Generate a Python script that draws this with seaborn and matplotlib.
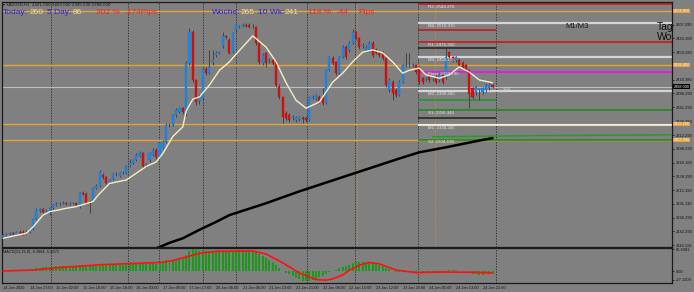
import numpy as np
import matplotlib
matplotlib.use("Agg")
import matplotlib.pyplot as plt
import matplotlib.transforms as mtrans
import seaborn as sns

sns.set_theme(style="white")
plt.rcParams['font.family'] = ['Liberation Sans', 'DejaVu Sans']

# ---------------- data ----------------
open_ = [2132, 2136, 2137, 2139, 2137, 2141, 2142, 2139, 2142, 2146,
         2164, 2179, 2181, 2177, 2175, 2183, 2189, 2191, 2192, 2193,
         2191, 2192, 2193, 2186, 2210, 2209, 2194, 2198, 2219, 2223,
         2242, 2238, 2229, 2235, 2243, 2241, 2245, 2245, 2258, 2263,
         2268, 2276, 2281, 2259, 2268, 2277, 2286, 2275, 2290, 2300,
         2330, 2330, 2348, 2353, 2360, 2350, 2440, 2495, 2410, 2372,
         2378, 2429, 2422, 2442, 2454, 2458, 2470, 2488, 2481, 2459,
         2498, 2504, 2505, 2507, 2507, 2505, 2503, 2475, 2440, 2457,
         2443, 2445, 2442, 2397, 2380, 2351, 2348, 2342, 2339, 2341,
         2343, 2343, 2339, 2378, 2376, 2380, 2380, 2369, 2428, 2449,
         2441, 2422, 2450, 2468, 2463, 2476, 2495, 2484, 2470, 2463,
         2463, 2475, 2463, 2458, 2458, 2449, 2392, 2406, 2392, 2383,
         2406, 2435, 2436, 2435, 2436, 2433, 2413, 2411, 2415, 2411,
         2415, 2410, 2419, 2415, 2459, 2450, 2445, 2445, 2440, 2436,
         2428, 2395, 2387, 2392, 2388, 2392, 2395, 2401]
high_ = [2138, 2140, 2141, 2142, 2143, 2144, 2145, 2145, 2148, 2166,
         2183, 2184, 2183, 2181, 2185, 2191, 2194, 2195, 2196, 2195,
         2195, 2195, 2195, 2212, 2213, 2211, 2197, 2221, 2226, 2250,
         2245, 2240, 2235, 2245, 2247, 2248, 2249, 2260, 2270, 2271,
         2280, 2284, 2283, 2264, 2283, 2289, 2289, 2300, 2304, 2333,
         2334, 2350, 2360, 2363, 2363, 2443, 2502, 2498, 2412, 2385,
         2431, 2432, 2463, 2463, 2461, 2462, 2495, 2490, 2484, 2495,
         2509, 2507, 2510, 2511, 2510, 2509, 2506, 2477, 2457, 2460,
         2448, 2448, 2445, 2402, 2382, 2355, 2351, 2348, 2347, 2347,
         2346, 2346, 2382, 2383, 2386, 2383, 2396, 2430, 2453, 2452,
         2444, 2453, 2471, 2471, 2478, 2500, 2497, 2486, 2475, 2471,
         2478, 2478, 2466, 2461, 2461, 2451, 2413, 2409, 2395, 2409,
         2439, 2457, 2457, 2440, 2439, 2436, 2416, 2416, 2418, 2416,
         2418, 2422, 2422, 2466, 2462, 2453, 2453, 2448, 2443, 2439,
         2430, 2398, 2400, 2396, 2398, 2404, 2404, 2403]
low_ = [2130, 2134, 2135, 2135, 2136, 2138, 2136, 2137, 2140, 2144,
        2162, 2176, 2174, 2174, 2172, 2181, 2187, 2189, 2190, 2189,
        2189, 2190, 2187, 2184, 2206, 2190, 2175, 2196, 2217, 2221,
        2235, 2226, 2226, 2233, 2241, 2239, 2243, 2243, 2256, 2261,
        2266, 2273, 2255, 2256, 2265, 2275, 2271, 2273, 2288, 2298,
        2327, 2328, 2345, 2351, 2350, 2346, 2437, 2407, 2366, 2368,
        2375, 2419, 2420, 2436, 2450, 2455, 2466, 2483, 2455, 2457,
        2495, 2501, 2503, 2504, 2501, 2502, 2472, 2438, 2437, 2432,
        2440, 2436, 2398, 2376, 2334, 2340, 2336, 2339, 2336, 2338,
        2334, 2336, 2337, 2376, 2374, 2370, 2366, 2367, 2425, 2437,
        2419, 2420, 2448, 2447, 2460, 2473, 2481, 2465, 2467, 2460,
        2460, 2451, 2455, 2451, 2446, 2398, 2389, 2375, 2380, 2381,
        2404, 2432, 2433, 2432, 2421, 2403, 2403, 2408, 2407, 2408,
        2403, 2407, 2403, 2412, 2447, 2442, 2442, 2433, 2430, 2425,
        2360, 2377, 2384, 2375, 2385, 2389, 2392, 2395]
close_ = [2136, 2137, 2139, 2137, 2141, 2140, 2138, 2142, 2146, 2164,
          2180, 2181, 2177, 2178, 2183, 2189, 2191, 2192, 2193, 2191,
          2192, 2193, 2189, 2210, 2209, 2192, 2193, 2219, 2223, 2247,
          2238, 2228, 2233, 2243, 2244, 2245, 2246, 2258, 2263, 2268,
          2277, 2281, 2258, 2261, 2281, 2286, 2274, 2298, 2300, 2330,
          2331, 2348, 2357, 2360, 2353, 2440, 2495, 2410, 2371, 2378,
          2429, 2422, 2433, 2445, 2458, 2459, 2488, 2486, 2458, 2493,
          2507, 2505, 2507, 2506, 2503, 2506, 2475, 2442, 2454, 2440,
          2445, 2440, 2401, 2380, 2344, 2343, 2339, 2344, 2344, 2344,
          2341, 2339, 2380, 2380, 2383, 2373, 2369, 2428, 2450, 2440,
          2422, 2450, 2468, 2450, 2475, 2495, 2484, 2468, 2472, 2468,
          2475, 2454, 2458, 2454, 2449, 2401, 2410, 2387, 2383, 2406,
          2436, 2436, 2437, 2436, 2424, 2406, 2406, 2413, 2410, 2413,
          2406, 2419, 2406, 2450, 2450, 2445, 2450, 2436, 2433, 2428,
          2385, 2380, 2397, 2393, 2395, 2401, 2401, 2398]

# fast moving average (cream) sampled at bar indices
ma_fast_idx = [0, 7, 9, 12, 14, 19, 22, 27, 29, 32, 37, 40, 43, 46, 48, 51, 54,
               55, 57, 59, 62, 65, 68, 69, 75, 79, 82, 85, 88, 91, 95, 99, 102,
               105, 108, 111, 114, 117, 120, 122, 125, 127, 131, 134, 137, 140,
               143, 147]
ma_fast_val = [2130, 2139, 2150, 2171, 2177, 2183, 2186, 2195, 2209, 2227, 2233,
               2245, 2257, 2265, 2280, 2310, 2327, 2355, 2376, 2380, 2401, 2427,
               2442, 2449, 2488, 2468, 2442, 2405, 2374, 2360, 2371, 2406, 2422,
               2442, 2459, 2463, 2458, 2442, 2422, 2427, 2431, 2419, 2413, 2419,
               2433, 2424, 2410, 2405]
# slow moving average (black)
ma_slow_idx = [46, 50, 54, 59, 64, 68, 79, 89, 104, 119, 125, 134, 144, 147]
ma_slow_val = [2112, 2122, 2130, 2145, 2159, 2171, 2192, 2213, 2242, 2271, 2282,
               2292, 2304, 2307]
# green higher-timeframe line
green_idx = [129, 160, 200.9]
green_val = [2309.5, 2311.5, 2313]

# MACD
macd_hist = [1, 1, 2, 2, 2, 2, 2, 2, 3, 5,
             8, 10, 11, 11, 12, 13, 14, 14, 14, 14,
             14, 13, 13, 16, 17, 16, 15, 16, 17, 20,
             20, 19, 19, 19, 19, 19, 19, 20, 21, 22,
             23, 24, 23, 22, 23, 23, 22, 24, 25, 28,
             29, 32, 35, 37, 37, 48, 62, 68, 64, 60,
             62, 61, 61, 61, 61, 61, 62, 62, 61, 62,
             63, 63, 63, 62, 62, 61, 58, 52, 47, 41,
             34, 26, 18, 9, 0, -5, -10, -15, -20, -25,
             -29, -32, -31, -28, -24, -19, -14, -8, -3, 0,
             4, 8, 12, 15, 19, 23, 26, 28, 28, 28,
             28, 26, 23, 19, 15, 10, 6, 1, -2, -3,
             -2, -2, -3, -3, -3, -4, -5, -5, -5, -4,
             -4, -3, -3, 1, 2, 2, 2, 1, 0, -1,
             -6, -9, -10, -11, -11, -10, -9, -8.3884]
sig_idx = [0, 9, 19, 29, 39, 47, 51, 54, 59, 64, 75, 79, 84, 89, 94, 97, 99,
           102, 104, 107, 110, 113, 118, 124, 132, 141, 147]
sig_val = [0, 3, 12, 19, 23, 26, 32, 40, 54, 60, 61, 52, 25, -6, -26, -28, -24,
           -12, 2, 18, 26, 22, 3, -5, -3, -4, -5.6672]
macd_scale_labels = [65.6381, 0.0, -27.1209]

# levels
pivot_names = ["R2", "M4", "R1", "M3", "Pivot", "M2", "S1", "M1", "S2"]
pivot_vals = [2544.270, 2510.315, 2476.360, 2450.275, 2424.190, 2390.265,
              2356.340, 2330.265, 2304.190]
pivot_colors = ["#d01010", "#d4d4d4", "#d01010", "#d4d4d4", "#ff00ff",
                "#d4d4d4", "#178a17", "#ffffff", "#178a17"]
day_levels = [2498.3, 2466.4, 2374.5, 2342.7]
day_colors = ["#d01010", "#202020", "#1f9a1f", "#202020"]
orange_levels = [2531.85, 2436.40, 2332.10, 2303.80]
separators = [14.5, 37.5, 46.8, 60.1, 70.0, 91.3, 105.7, 124.6, 148.1]
orange_separators = [106.3, 129.7]

price_ticks = [2118.110, 2142.290, 2166.290, 2191.110, 2215.190, 2239.290,
               2263.180, 2288.290, 2312.290, 2336.380, 2361.290, 2386.290,
               2410.380, 2459.290, 2483.380, 2507.290]
time_tick_idx = list(range(0, 145, 8))
time_labels = ["14 Jan 2020", "14 Jan 17:00", "15 Jan 02:00", "15 Jan 10:00",
               "15 Jan 18:00", "16 Jan 03:00", "17 Jan 09:00", "17 Jan 17:00",
               "20 Jan 06:00", "21 Jan 06:00", "21 Jan 13:00", "21 Jan 21:00",
               "22 Jan 06:00", "22 Jan 15:00", "23 Jan 12:00", "23 Jan 20:00",
               "24 Jan 05:00", "24 Jan 13:00", "24 Jan 21:00"]

# ---------------- figure ----------------
W, H = 694, 292
BG = "#808080"
fig = plt.figure(figsize=(W / 100, H / 100), dpi=100, facecolor=BG)


def fx(px):
    return px / W


def fy(py):
    return 1 - py / H


ax = fig.add_axes([fx(2), fy(247), (672 - 2) / W, (247 - 2) / H])
axm = fig.add_axes([fx(2), fy(283), (672 - 2) / W, (283 - 248) / H])
XL = (-0.3, 200.9)
for a in (ax, axm):
    a.set_facecolor(BG)
    a.set_xlim(*XL)
    for s in a.spines.values():
        s.set_color("#1a1a1a")
        s.set_linewidth(0.9)
    a.grid(False)

ax.set_ylim(2114.6, 2547.8)
axm.set_ylim(-36.6, 70.2)

o = np.array(open_, float)
h = np.array(high_, float)
l = np.array(low_, float)
c = np.array(close_, float)
idx = np.arange(len(c))

# separators
for s in separators:
    for a in (ax, axm):
        a.axvline(s, color="#2a2a2a", lw=0.6, ls=(0, (1.6, 1.6)), zorder=1)
for s in orange_separators:
    ax.axvline(s, color="#c89448", lw=0.6, ls=(0, (1.2, 1.6)), zorder=1)

# full width orange lines
for v in orange_levels:
    ax.axhline(v, color="#e3a23c", lw=1.0, zorder=2)
# bid line
ax.axhline(c[-1], color="#bdbdbd", lw=0.8, zorder=2)

# pivot levels
x_piv0 = 124.5
for name, v, col in zip(pivot_names, pivot_vals, pivot_colors):
    lw = 1.6 if col == "#d4d4d4" else 1.1
    ax.hlines(v, x_piv0, XL[1], color=col, lw=lw, zorder=2)
    ax.text(127.6, v - 1.0, f"{name}: {v:.3f}", fontsize=3.2, color="#e6e6e6",
            va="top", ha="left", zorder=6)
for v, col in zip(day_levels, day_colors):
    ax.hlines(v, x_piv0, 148.1, color=col, lw=1.1, zorder=2)

# green line
sns.lineplot(x=green_idx, y=green_val, ax=ax, color="#2a9a2a", lw=1.1,
             estimator=None, zorder=3)

# candles
up = c >= o
bb = np.minimum(o, c)
bh = np.maximum(np.abs(c - o), 1.2)
ax.vlines(idx, l, h, color="#3a3a3a", lw=0.6, zorder=4)
ax.bar(idx[up], bh[up], bottom=bb[up], width=0.62, color="#1e88e5",
       edgecolor="#1565c0", linewidth=0.2, zorder=5)
ax.bar(idx[~up], bh[~up], bottom=bb[~up], width=0.62, color="#dd1111",
       edgecolor="#a00000", linewidth=0.2, zorder=5)

# moving averages
sns.lineplot(x=ma_slow_idx, y=ma_slow_val, ax=ax, color="#000000", lw=1.8,
             estimator=None, zorder=6)
sns.lineplot(x=ma_fast_idx, y=ma_fast_val, ax=ax, color="#f3eec6", lw=1.0,
             estimator=None, zorder=7)

# MACD
hist = np.array(macd_hist, float)
axm.bar(np.arange(len(hist)), hist, width=0.6, color="#1a9a1a", linewidth=0,
        zorder=3)
sns.lineplot(x=sig_idx, y=sig_val, ax=axm, color="#ff1010", lw=1.2,
             estimator=None, zorder=4)

# axes ticks
ax.yaxis.tick_right()
ax.set_yticks(price_ticks)
ax.set_yticklabels([f"{t:.3f}" for t in price_ticks])
ax.tick_params(axis="y", direction="out", length=1.5, width=0.5, pad=1.2,
               labelsize=2.9, colors="#111111")
ax.set_xticks([])
axm.yaxis.tick_right()
axm.set_yticks(macd_scale_labels)
axm.set_yticklabels([f"{macd_scale_labels[0]:.4f}", "0.00",
                     f"{macd_scale_labels[2]:.4f}"])
axm.tick_params(axis="y", direction="out", length=1.5, width=0.5, pad=1.2,
                labelsize=2.9, colors="#111111")
axm.set_xticks(time_tick_idx)
axm.set_xticklabels(time_labels, ha="left")
axm.tick_params(axis="x", direction="out", length=1.5, width=0.5, pad=1.0,
                labelsize=2.8, colors="#111111")

# right-axis boxes
trans = mtrans.blended_transform_factory(ax.transAxes, ax.transData)
for v in orange_levels:
    ax.text(1.002, v, f"{v:.3f}", transform=trans, fontsize=2.8, color="#f4f4f4",
            va="center", ha="left", clip_on=False, zorder=8,
            bbox=dict(boxstyle="square,pad=0.12", fc="#e3a23c", ec="none"))
ax.text(1.002, c[-1], f"{c[-1]:.3f}", transform=trans, fontsize=2.8,
        color="#ffffff", va="center", ha="left", clip_on=False, zorder=8,
        bbox=dict(boxstyle="square,pad=0.12", fc="#000000", ec="none"))

# chart texts
ax.text(168.8, 2503.6, "M1/M3", fontsize=5.5, color="#1a1a1a", va="center",
        ha="left", zorder=8)
ax.text(196.4, 2503.6, "Tag:", fontsize=7.5, color="#101010", va="center",
        ha="left", clip_on=True, zorder=8)
ax.text(196.4, 2486.5, "Woche:", fontsize=7.5, color="#101010", va="center",
        ha="left", clip_on=True, zorder=8)
ax.text(150.2, c[-1] - 4, "<2:0", fontsize=3.0, color="#e8e8e8", va="center",
        ha="left", zorder=8)

# header
fig.text(fx(3), fy(4.5), f"\u25be XAUUSD,H1  {o[-1]:.3f} {h[-1]:.3f} {l[-1]:.3f} {c[-1]:.3f}",
         fontsize=2.8, color="#111111", va="center", ha="left",
         family=["DejaVu Sans"])
BLUE, KH, RED = "#2424e8", "#eadf9a", "#ff2222"
header = [(3, "Today:", BLUE), (30, "260", KH), (47, "5 Day:", BLUE),
          (73, "86", KH), (96, "302 %", RED), (125, "-174Pips", RED),
          (212, "Woche:", BLUE), (241, "265", KH), (258, "10 Wk:", BLUE),
          (285, "241", KH), (308, "118 %", RED), (337, "-44", RED),
          (358, "Pips", RED)]
for px, t, col in header:
    fig.text(fx(px), fy(13), t, fontsize=6, color=col, va="center", ha="left")

fig.text(fx(3), fy(251.5), f"MACD(12,26,9) {macd_hist[-1]:.4f} {sig_val[-1]:.4f}",
         fontsize=2.8, color="#111111", va="center", ha="left")

fig.savefig("out.png", dpi=100, facecolor=BG)
